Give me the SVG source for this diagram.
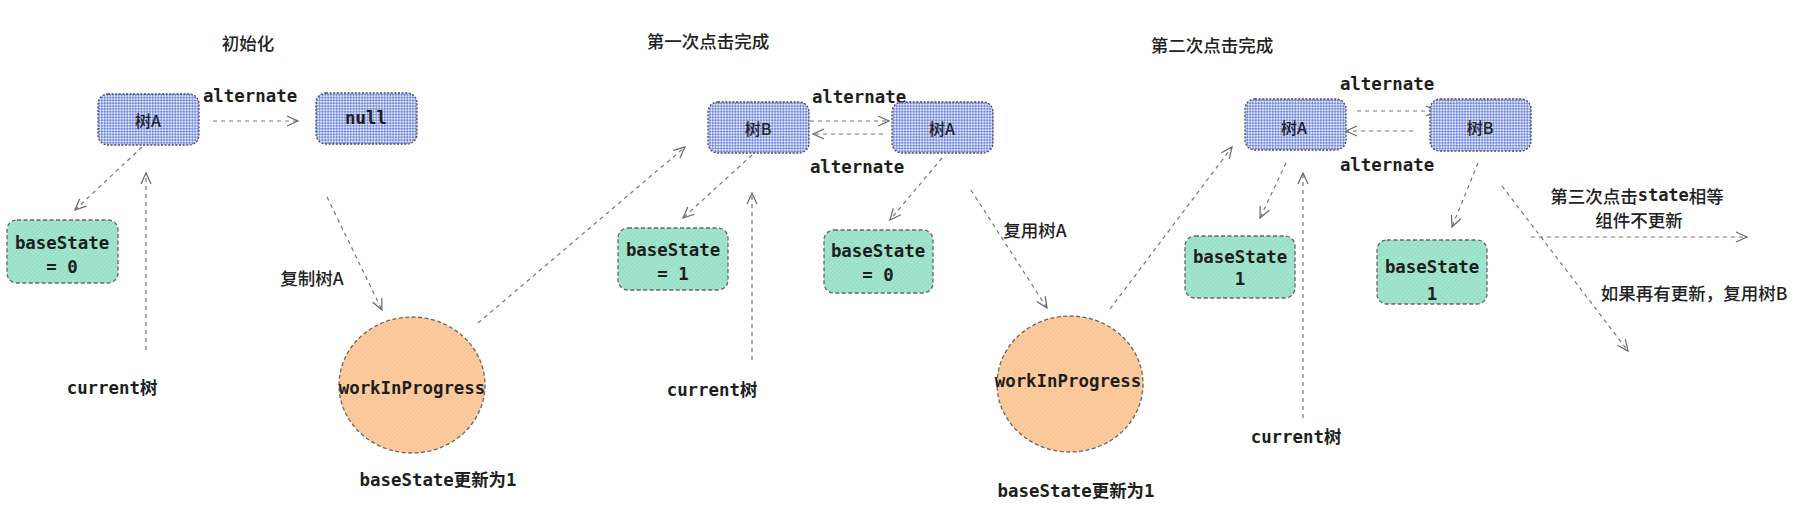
<svg xmlns="http://www.w3.org/2000/svg" width="1801" height="527" viewBox="0 0 1801 527">
<style>
.mono{font-family:"DejaVu Sans Mono","Noto Sans CJK SC",monospace;font-weight:bold;font-size:17.4px;fill:#1e1e1e;text-anchor:middle;dominant-baseline:central}
.cjk{font-family:"Noto Sans CJK SC","Noto Sans",sans-serif;font-size:17.5px;font-weight:500;fill:#222;text-anchor:middle;dominant-baseline:central}
.lbl{font-family:"Noto Sans CJK SC","Noto Sans",sans-serif;font-size:17.5px;font-weight:500;fill:#222;text-anchor:middle;dominant-baseline:central}
.node{font-family:"Noto Sans CJK SC","Noto Sans",sans-serif;font-size:16px;font-weight:500;fill:#222;text-anchor:middle;dominant-baseline:central}
.blue{fill:url(#chk);stroke:#4a4a5a;stroke-width:1.3;stroke-dasharray:2 1.6}
.green{fill:url(#grn);stroke:#666;stroke-width:1.3;stroke-dasharray:4 2.5}
.orange{fill:url(#org);stroke:#666;stroke-width:1.3;stroke-dasharray:4 2.5}
.edge{fill:none;stroke:#777;stroke-width:1.2;stroke-dasharray:4 4;marker-end:url(#ah)}
</style>
<defs>
<pattern id="chk" width="4" height="4" patternUnits="userSpaceOnUse" patternTransform="rotate(45)">
<rect width="4" height="4" fill="#dfe5fa"/>
<rect width="2" height="2" fill="#7389dc"/>
<rect x="2" y="2" width="2" height="2" fill="#7389dc"/>
</pattern>
<pattern id="grn" width="3" height="3" patternUnits="userSpaceOnUse" patternTransform="rotate(45)">
<rect width="3" height="3" fill="#a3e5cf"/>
<rect width="1" height="3" fill="#93dcc4"/>
</pattern>
<pattern id="org" width="3" height="3" patternUnits="userSpaceOnUse" patternTransform="rotate(45)">
<rect width="3" height="3" fill="#fccca0"/>
<rect width="1" height="3" fill="#f8c291"/>
</pattern>
<marker id="ah" markerWidth="14" markerHeight="12" refX="12" refY="6" orient="auto" markerUnits="userSpaceOnUse">
<path d="M1,1 L12,6 L1,11" fill="none" stroke="#666" stroke-width="1.2"/>
</marker>
</defs>
<rect width="1801" height="527" fill="#fff"/>

<g id="titles">
<text class="cjk" x="248" y="42">初始化</text>
<text class="cjk" x="708" y="40">第一次点击完成</text>
<text class="cjk" x="1212" y="44">第二次点击完成</text>
</g>

<g id="connectors">
<path class="edge" d="M213,121 L298,121"/>
<path class="edge" d="M142,147 L75,210"/>
<path class="edge" d="M146,350 L146,173"/>
<path class="edge" d="M327,197 L382,310"/>
<path class="edge" d="M478,323 L685,147"/>
<path class="edge" d="M810,121 L889,121"/>
<path class="edge" d="M883,134 L813,134"/>
<path class="edge" d="M752,155 L683,218"/>
<path class="edge" d="M752,360 L752,193"/>
<path class="edge" d="M942,158 L890,220"/>
<path class="edge" d="M971,190 L1047,308"/>
<path class="edge" d="M1110,309 L1232,147"/>
<path class="edge" d="M1357,111 L1437,111"/>
<path class="edge" d="M1413,131 L1346,131"/>
<path class="edge" d="M1286,163 L1260,218"/>
<path class="edge" d="M1303,418 L1303,173"/>
<path class="edge" d="M1478,163 L1452,227"/>
<path class="edge" d="M1531,237 L1747,237"/>
<path class="edge" d="M1502,186 L1628,351"/>
</g>

<g id="edge-labels">
<text class="mono" x="250" y="96">alternate</text>
<text class="mono" x="859" y="97">alternate</text>
<text class="mono" x="857" y="167">alternate</text>
<text class="mono" x="1387" y="84">alternate</text>
<text class="mono" x="1387" y="165">alternate</text>
<text class="lbl" x="312" y="277">复制树A</text>
<text class="lbl" x="1035" y="229">复用树A</text>
<text class="lbl" x="1637" y="195">第三次点击<tspan style="font-family:'DejaVu Sans Mono',monospace;font-weight:bold;font-size:17px">state</tspan>相等</text>
<text class="lbl" x="1639" y="219">组件不更新</text>
<text class="lbl" x="1694" y="292">如果再有更新，复用树B</text>
<text class="mono" x="112" y="388">current树</text>
<text class="mono" x="712" y="390">current树</text>
<text class="mono" x="1296" y="437">current树</text>
<text class="mono" x="438" y="480">baseState更新为1</text>
<text class="mono" x="1076" y="491">baseState更新为1</text>
</g>

<g id="s1-treeA">
<rect class="blue" x="98" y="94" width="101" height="51" rx="10"/>
<text class="node" x="148" y="120">树A</text>
</g>
<g id="s1-null">
<rect class="blue" x="316" y="93" width="101" height="51" rx="10"/>
<text class="mono" x="366" y="118">null</text>
</g>
<g id="s1-base0">
<rect class="green" x="7" y="220" width="111" height="63" rx="10"/>
<text class="mono" x="62" y="243">baseState</text>
<text class="mono" x="62" y="267">= 0</text>
</g>
<g id="s1-wip">
<ellipse class="orange" cx="412" cy="385" rx="73" ry="68"/>
<text class="mono" x="412" y="388">workInProgress</text>
</g>

<g id="s2-treeB">
<rect class="blue" x="708" y="102" width="101" height="51" rx="10"/>
<text class="node" x="758" y="128">树B</text>
</g>
<g id="s2-treeA">
<rect class="blue" x="892" y="102" width="101" height="51" rx="10"/>
<text class="node" x="942" y="128">树A</text>
</g>
<g id="s2-base1">
<rect class="green" x="618" y="228" width="110" height="62" rx="10"/>
<text class="mono" x="673" y="250">baseState</text>
<text class="mono" x="673" y="274">= 1</text>
</g>
<g id="s2-base0">
<rect class="green" x="824" y="230" width="109" height="63" rx="10"/>
<text class="mono" x="878" y="251">baseState</text>
<text class="mono" x="878" y="275">= 0</text>
</g>
<g id="s2-wip">
<ellipse class="orange" cx="1070" cy="384" rx="73" ry="68"/>
<text class="mono" x="1068" y="381">workInProgress</text>
</g>

<g id="s3-treeA">
<rect class="blue" x="1245" y="99" width="101" height="51" rx="10"/>
<text class="node" x="1294" y="127">树A</text>
</g>
<g id="s3-treeB">
<rect class="blue" x="1430" y="99" width="101" height="52" rx="10"/>
<text class="node" x="1480" y="127">树B</text>
</g>
<g id="s3-baseA">
<rect class="green" x="1185" y="236" width="110" height="62" rx="10"/>
<text class="mono" x="1240" y="257">baseState</text>
<text class="mono" x="1240" y="279">1</text>
</g>
<g id="s3-baseB">
<rect class="green" x="1377" y="240" width="110" height="64" rx="10"/>
<text class="mono" x="1432" y="267">baseState</text>
<text class="mono" x="1432" y="294">1</text>
</g>
</svg>
